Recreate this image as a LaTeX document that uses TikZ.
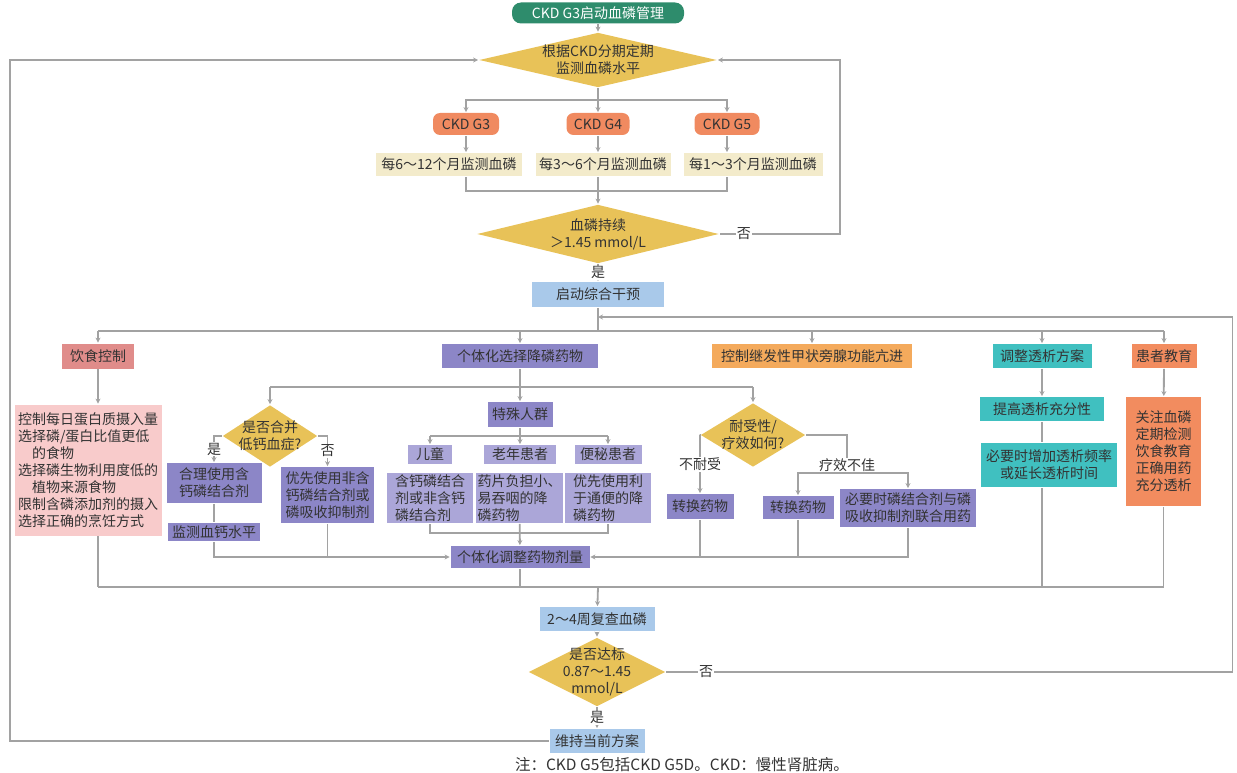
\documentclass[tikz,border=0pt]{standalone}
\usepackage{fontspec}
\setmainfont{Noto Sans CJK SC}
\usetikzlibrary{arrows.meta,shapes.geometric}
\definecolor{startg}{HTML}{2E8C6C}
\definecolor{dmd}{HTML}{E8C258}
\definecolor{stage}{HTML}{F08A60}
\definecolor{beige}{HTML}{F3EBCB}
\definecolor{lblue}{HTML}{A9C9EA}
\definecolor{dietr}{HTML}{E08C8A}
\definecolor{dietp}{HTML}{F8CBCB}
\definecolor{drugp}{HTML}{8C86C7}
\definecolor{drugl}{HTML}{ABA6D8}
\definecolor{pthor}{HTML}{F4AA5C}
\definecolor{dialt}{HTML}{40C0C0}
\definecolor{educ}{HTML}{F28C5F}
\definecolor{conn}{HTML}{A2A2A2}
\definecolor{txt}{HTML}{333333}
\begin{document}
\begin{tikzpicture}[x=1pt,y=-1pt,
    every node/.style={font=\fontsize{14}{17}\selectfont,text=txt},
    sz/.style 2 args={minimum width=#1pt,minimum height=#2pt},
    box/.style={inner sep=1pt,align=center},
    rbox/.style={box,rounded corners=7pt},
    dmdbox/.style={diamond,fill=dmd,inner xsep=-20pt,inner ysep=-12pt,align=center},
    lab/.style={fill=white,inner sep=1pt},
    >={Stealth[length=5pt,width=5pt]},line width=1.8pt,color=conn]
    \useasboundingbox (0,0) rectangle (1237,773);
    \node[rbox,sz={172}{21},fill=startg,text=white,rounded corners=9pt] (start) at (598,13) {CKD G3启动血磷管理};
    \node[dmdbox,sz={238}{55},aspect=4.3] (d1) at (598,60) {根据CKD分期定期\\监测血磷水平};
    \node[rbox,sz={66}{22},fill=stage] (g3) at (466,124) {CKD G3};
    \node[rbox,sz={63}{22},fill=stage] (g4) at (598,124) {CKD G4};
    \node[rbox,sz={65}{22},fill=stage] (g5) at (727,124) {CKD G5};
    \node[box,sz={146}{23},fill=beige] (m3) at (449,164.5) {每6～12个月监测血磷};
    \node[box,sz={135}{23},fill=beige] (m4) at (603,164.5) {每3～6个月监测血磷};
    \node[box,sz={139}{23},fill=beige] (m5) at (753,164.5) {每1～3个月监测血磷};
    \node[dmdbox,sz={242}{59},aspect=4.1] (d2) at (598,234) {血磷持续\\＞1.45 mmol/L};
    \node[box,sz={132}{25},fill=lblue] (iv) at (598,294.5) {启动综合干预};
    \coordinate (ret) at (598,317);
    \coordinate (bus) at (598,331);
    \coordinate (lbus) at (598,587);

    \node[box,sz={72}{25},fill=dietr] (diet) at (98,356) {饮食控制};
    \node[box,sz={156}{24},fill=drugp] (drug) at (520,356) {个体化选择降磷药物};
    \node[box,sz={200}{24},fill=pthor] (pth) at (812,356) {控制继发性甲状旁腺功能亢进};
    \node[box,sz={99}{24},fill=dialt] (dia) at (1042,356) {调整透析方案};
    \node[box,sz={65}{24},fill=educ] (edu) at (1164,356) {患者教育};

    \node[box,sz={147}{131},fill=dietp,align=left] (dietx) at (88,470) {控制每日蛋白质摄入量\\选择磷/蛋白比值更低\\\hspace*{1em}的食物\\选择磷生物利用度低的\\\hspace*{1em}植物来源食物\\限制含磷添加剂的摄入\\选择正确的烹饪方式};

    \node[dmdbox,sz={95}{62},aspect=1.5] (dca) at (270,436) {是否合并\\低钙血症?};
    \node[box,sz={95}{40},fill=drugp] (cay) at (214,483) {合理使用含\\钙磷结合剂};
    \node[box,sz={92}{18},fill=drugp] (cam) at (214,532) {监测血钙水平};
    \node[box,sz={93}{56},fill=drugp] (can) at (327.5,495) {优先使用非含\\钙磷结合剂或\\磷吸收抑制剂};
    \node[box,sz={65}{25},fill=drugp] (spec) at (520,414.5) {特殊人群};
    \node[box,sz={44}{19},fill=drugl] (kid) at (430,454.5) {儿童};
    \node[box,sz={72}{19},fill=drugl] (old) at (520,454.5) {老年患者};
    \node[box,sz={67}{19},fill=drugl] (con) at (608,454.5) {便秘患者};
    \node[box,sz={86}{50},fill=drugl,align=left] (kidx) at (430,498) {含钙磷结合\\剂或非含钙\\磷结合剂};
    \node[box,sz={87}{50},fill=drugl,align=left] (oldx) at (519.5,498) {药片负担小、\\易吞咽的降\\磷药物};
    \node[box,sz={86}{50},fill=drugl,align=left] (conx) at (608,498) {优先使用利\\于通便的降\\磷药物};
    \node[box,sz={139}{22},fill=drugp] (adj) at (520,557) {个体化调整药物剂量};
    \node[dmdbox,sz={105}{64},aspect=1.6] (dtol) at (753,435) {耐受性/\\疗效如何?};
    \node[box,sz={67}{25},fill=drugp] (sw1) at (700,506.5) {转换药物};
    \node[box,sz={71}{23},fill=drugp] (sw2) at (798,507.5) {转换药物};
    \node[box,sz={136}{38},fill=drugp] (comb) at (908,508) {必要时磷结合剂与磷\\吸收抑制剂联合用药};
    \coordinate (sb) at (520,387);
    \coordinate (sp) at (520,436);
    \coordinate (ef) at (847,473);

    \node[box,sz={124}{24},fill=dialt] (up) at (1042,409) {提高透析充分性};
    \node[box,sz={136}{44},fill=dialt] (freq) at (1049,465) {必要时增加透析频率\\或延长透析时间};
    \node[box,sz={75}{109},fill=educ] (edux) at (1163.5,451.5) {关注血磷\\定期检测\\饮食教育\\正确用药\\充分透析};

    \node[box,sz={115}{24},fill=lblue] (rec) at (597,619) {2～4周复查血磷};
    \node[dmdbox,sz={137}{69},aspect=2] (d3) at (597,672) {是否达标\\0.87～1.45\\mmol/L};
    \node[box,sz={95}{24},fill=lblue] (keep) at (597,741) {维持当前方案};
    \node[font=\fontsize{15.5}{18}\selectfont] (note) at (682,765) {注：CKD G5包括CKD G5D。CKD：慢性肾脏病。};

    \draw[->] (start) -- (d1);
    \draw[->] (d1) -- (g4);
    \draw[->] (d1) -- ++(0,40) -| (g3); \draw[->] (d1) -- ++(0,40) -| (g5);
    \draw[->] (g3) -- (g3 |- m3.north); \draw[->] (g4) -- (g4 |- m4.north); \draw[->] (g5) -- (g5 |- m5.north);
    \draw (g3 |- m3.south) -- ++(0,14) -| (g5 |- m5.south);
    \draw[->] (g4 |- m4.south) -- (d2);
    \draw[->] (d2) -- node[lab]{是} (iv);
    \draw[->] (d2.east) -- node[lab,pos=.2]{否} ++(120,0) |- (d1.east);
    \draw (iv) -- (bus);
    \draw (diet |- bus) -- (edu |- bus);
    \foreach \n in {diet,drug,pth,dia,edu} \draw[->] (\n |- bus) -- (\n);
    \draw[->] (d3.east) -- node[lab,pos=.07]{否} ++(566,0) |- (ret);
    \draw[->] (keep.west) -| (10,60) -- (d1.west);

    \draw[->] (diet) -- (diet |- dietx.north);
    \draw (diet |- dietx.south) -- (diet |- lbus);
    \draw (diet |- lbus) -- (edu |- lbus);
    \draw[->] (lbus) -- (rec);

    \draw (drug) -- (sb);
    \draw (dca |- sb) -- (dtol |- sb);
    \draw[->] (dca |- sb) -- (dca); \draw[->] (sb) -- (spec); \draw[->] (dtol |- sb) -- (dtol);
    \draw[->] (dca.west) -| node[lab,pos=.75]{是} (cay);
    \draw[->] (dca.east) -| node[lab,pos=.75]{否} (can);
    \draw (cay) -- (cam);
    \draw[->] (cam.south) |- (adj.west);
    \draw (can.south) -- (can.south |- adj.west);
    \draw (spec) -- (sp);
    \draw (kid |- sp) -- (con |- sp);
    \foreach \n in {kid,old,con} \draw[->] (\n |- sp) -- (\n);
    \draw (kidx.south) -- ++(0,9) -| (conx.south);
    \draw[->] (oldx) -- (adj);
    \draw[->] (dtol.west) -| node[lab,pos=.75]{不耐受} (sw1);
    \draw (dtol.east) -| node[lab,pos=.9]{疗效不佳} (ef);
    \draw[->] (ef) -| (sw2); \draw[->] (ef) -| (comb);
    \draw[->] (comb.south) |- (adj.east);
    \draw (sw1.south) -- (sw1.south |- adj.east); \draw (sw2.south) -- (sw2.south |- adj.east);
    \draw (adj) -- (adj |- lbus);

    \draw[->] (dia) -- (up);
    \draw (up) -- (up |- freq.north);
    \draw (up |- freq.south) -- (up |- lbus);
    \draw[->] (edu) -- (edux);
    \draw (edux) -- (edux |- lbus);

    \draw[->] (rec) -- (d3);
    \draw[->] (d3) -- node[lab]{是} (keep);
\end{tikzpicture}
\end{document}
